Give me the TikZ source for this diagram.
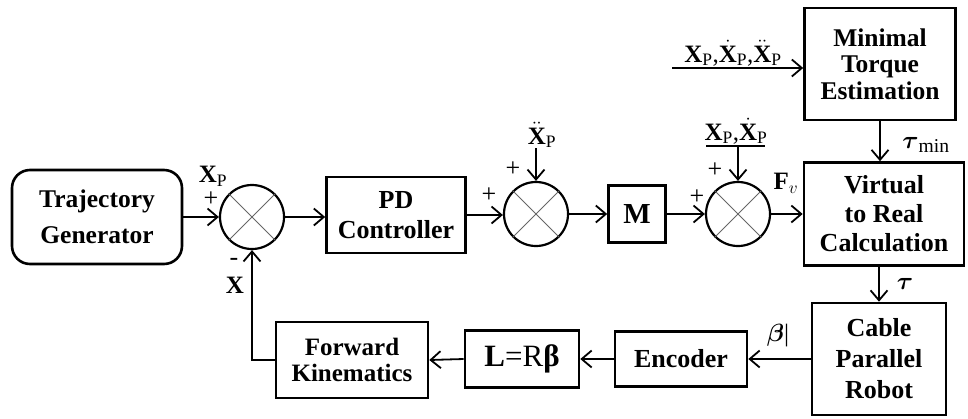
\documentclass[tikz,border=0pt]{standalone}
\usepackage{amsmath}
\usepackage{fontspec}
\setmainfont{Liberation Serif}
\usetikzlibrary{arrows.meta}
\begin{document}
\begin{tikzpicture}[x=1pt,y=-1pt,
  blk/.style={draw, line width=2.6pt, align=center, inner sep=0pt,
    font=\bfseries\fontsize{26}{30}\selectfont},
  sumc/.style={circle, draw, line width=2.2pt, minimum size=64pt, inner sep=0pt},
  crs/.style={line width=0.9pt, black!60},
  conn/.style={line width=1.8pt, -{Straight Barb[length=10pt,width=17pt,line width=1.8pt]}},
  wire/.style={line width=1.8pt},
  lbl/.style={font=\fontsize{25}{28}\selectfont, inner sep=0pt},
  sgn/.style={font=\fontsize{26}{26}\selectfont, inner sep=0pt}]
\useasboundingbox (0,0) rectangle (968,418);
% blocks
\node[blk, rounded corners=18pt, minimum width=170pt, minimum height=94pt,
  font=\bfseries\fontsize{25.5}{30}\selectfont] (traj) at (97,217) {Trajectory\\[6pt]Generator};
\node[sumc] (s1) at (252,217) {};
\node[blk, minimum width=139pt, minimum height=76pt] (pd) at (396,215) {PD\\Controller};
\node[sumc] (s2) at (536,214) {};
\node[blk, minimum width=57pt, minimum height=57pt, font=\bfseries\fontsize{29}{30}\selectfont] (m) at (637,214) {M};
\node[sumc] (s3) at (738,214) {};
\node[blk, minimum width=160pt, minimum height=103pt, font=\bfseries\fontsize{26}{29}\selectfont] (vr) at (884,214) {Virtual\\to Real\\Calculation};
\node[blk, minimum width=151pt, minimum height=112pt, font=\bfseries\fontsize{25.5}{26.5}\selectfont] (mte) at (880,64) {Minimal\\Torque\\Estimation};
\node[blk, minimum width=134pt, minimum height=112pt, font=\bfseries\fontsize{26}{31}\selectfont] (cpr) at (879,359) {Cable\\Parallel\\Robot};
\node[blk, minimum width=132pt, minimum height=55pt] (enc) at (681,359) {Encoder};
\node[blk, minimum width=114pt, minimum height=57pt, font=\fontsize{31}{31}\selectfont] (lrb) at (522,359) {\textbf{L}=R\textbf{β}};
\node[blk, minimum width=152pt, minimum height=76pt, font=\bfseries\fontsize{25}{26}\selectfont] (fk) at (352,360) {Forward\\Kinematics};
% crosses
\foreach \s in {s1,s2,s3}{
  \draw[crs] (\s.135) -- (\s.-45);
  \draw[crs] (\s.45) -- (\s.225);
}
% main path
\draw[conn] (traj.east) -- (s1.west);
\draw[conn] (s1.east) -- (s1.east -| pd.west);
\draw[conn] (pd.east) -- (pd.east -| s2.west);
\draw[conn] (s2.east) -- (m.west);
\draw[conn] (m.east) -- (s3.west);
\draw[conn] (s3.east) -- (s3.east -| vr.west);
% top input
\coordinate (tin) at (672,68);
\draw[conn] (tin) -- (tin -| mte.west);
\node[lbl] (tinl) at (733,53) {$\mathbf{X}_{\mathrm{P}}$,$\dot{\mathbf{X}}_{\mathrm{P}}$,$\ddot{\mathbf{X}}_{\mathrm{P}}$};
\draw[conn] (mte.south) -- (mte.south |- vr.north);
\node[lbl, font=\fontsize{28}{28}\selectfont] (taumin) at (926,145) {$\boldsymbol{\tau}_{\mathrm{min}}$};
\draw[conn] (cpr.north |- vr.south) -- (cpr.north);
\node[lbl, font=\fontsize{28}{28}\selectfont] (tau) at (905,284) {$\boldsymbol{\tau}$};
% feedback
\draw[conn] (cpr.west |- enc.east) -- (enc.east);
\node[lbl] (beta) at (778,336) {$\boldsymbol{\beta}$|};
\draw[conn] (enc.west) -- (lrb.east);
\draw[conn] (lrb.west) -- (fk.east);
\draw[conn] (fk.west) -| (s1.south);
% summing inputs
\coordinate (ddin) at (536,148);
\draw[conn] (ddin) -- (s2.north);
\node[lbl] (ddl) at (542,135) {$\ddot{\mathbf{X}}_{\mathrm{P}}$};
\coordinate (u1) at (706,146);
\coordinate (u2) at (765,146);
\draw[wire, line width=1.4pt] (u1) -- (u2);
\coordinate (din) at (738,146);
\draw[conn] (din) -- (s3.north);
\node[lbl] (dl) at (736,131) {$\mathbf{X}_{\mathrm{P}}$,$\dot{\mathbf{X}}_{\mathrm{P}}$};
% labels
\node[lbl] (xp) at (213,176) {$\mathbf{X}_{\mathrm{P}}$};
\node[sgn] (p1) at (211,199) {+};
\node[sgn] (m1) at (234,262) {-};
\node[lbl] (xl) at (235,285) {$\mathbf{X}$};
\node[sgn] (p2a) at (489,195) {+};
\node[sgn] (p2b) at (513,169) {+};
\node[sgn] (p3a) at (697,197) {+};
\node[sgn] (p3b) at (715,170) {+};
\node[lbl] (fv) at (786,183) {$\mathbf{F}_{v}$};
\end{tikzpicture}
\end{document}
